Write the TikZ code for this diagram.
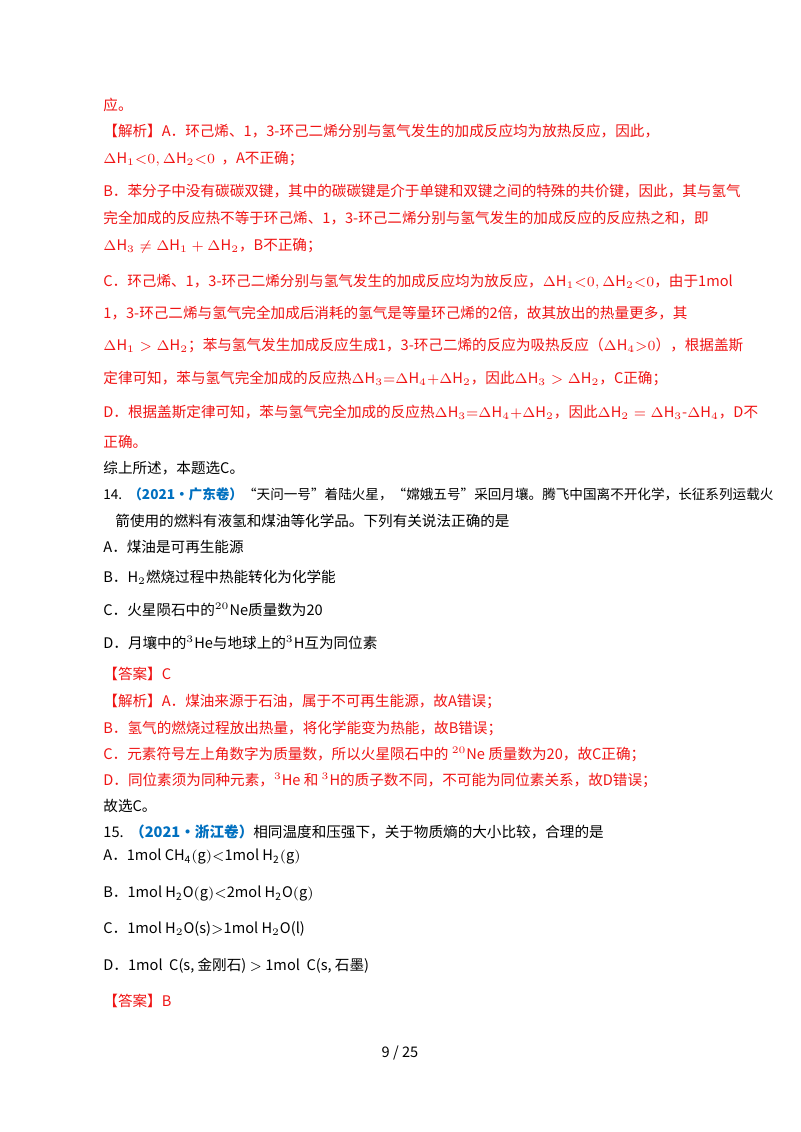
\documentclass[tikz,border=0pt]{standalone}
\usepackage{fontspec}
\setmainfont{Noto Sans CJK SC}
\definecolor{rd}{RGB}{240,20,20}
\definecolor{bl}{RGB}{0,112,192}
\begin{document}
\begin{tikzpicture}[x=0.5pt,y=-0.5pt,
  t/.style={anchor=west,inner sep=0pt,font=\fontsize{7.3}{9}\selectfont},
  r/.style={t,text=rd}]
\useasboundingbox (0,0) rectangle (800,1132);
\fill[white] (0,0) rectangle (800,1132);
\node[r] (l1) at (103,105) {应。};
\node[r] (l2) at (103,131) {【解析】A．环己烯、1，3-环己二烯分别与氢气发生的加成反应均为放热反应，因此，};
\node[r] (l3) at (103,159) {$\Delta\mathrm{H}_1{<}0,\Delta\mathrm{H}_2{<}0$\ \ ，A不正确；};
\node[r] (l4) at (103,191) {B．苯分子中没有碳碳双键，其中的碳碳键是介于单键和双键之间的特殊的共价键，因此，其与氢气};
\node[r] (l5) at (103,218) {完全加成的反应热不等于环己烯、1，3-环己二烯分别与氢气发生的加成反应的反应热之和，即};
\node[r] (l6) at (103,246) {$\Delta\mathrm{H}_3\neq\Delta\mathrm{H}_1+\Delta\mathrm{H}_2$，B不正确；};
\node[r] (l7) at (103,282) {C．环己烯、1，3-环己二烯分别与氢气发生的加成反应均为放反应，$\Delta\mathrm{H}_1{<}0,\Delta\mathrm{H}_2{<}0$，由于1mol};
\node[r] (l8) at (103,313) {1，3-环己二烯与氢气完全加成后消耗的氢气是等量环己烯的2倍，故其放出的热量更多，其};
\node[r] (l9) at (103,345) {$\Delta\mathrm{H}_1>\Delta\mathrm{H}_2$；苯与氢气发生加成反应生成1，3-环己二烯的反应为吸热反应（$\Delta\mathrm{H}_4{>}0$），根据盖斯};
\node[r] (l10) at (103,378) {定律可知，苯与氢气完全加成的反应热$\Delta\mathrm{H}_3{=}\Delta\mathrm{H}_4{+}\Delta\mathrm{H}_2$，因此$\Delta\mathrm{H}_3>\Delta\mathrm{H}_2$，C正确；};
\node[r] (l11) at (103,412) {D．根据盖斯定律可知，苯与氢气完全加成的反应热$\Delta\mathrm{H}_3{=}\Delta\mathrm{H}_4{+}\Delta\mathrm{H}_2$，因此$\Delta\mathrm{H}_2=\Delta\mathrm{H}_3\mbox{-}\Delta\mathrm{H}_4$，D不};
\node[r] (l12) at (103,442) {正确。};
\node[t] (l13) at (103,468) {综上所述，本题选C。};
\node[t,font=\fontsize{6.8}{9}\selectfont] (l14) at (103,494) {14.\ \ \textcolor{bl}{\bfseries（2021·广东卷）}“天问一号”着陆火星，“嫦娥五号”采回月壤。腾飞中国离不开化学，长征系列运载火};
\node[t] (l15) at (115,521) {箭使用的燃料有液氢和煤油等化学品。下列有关说法正确的是};
\node[t] (l16) at (103,547) {A．煤油是可再生能源};
\node[t] (l17) at (103,577) {B．$\mathrm{H}_2$燃烧过程中热能转化为化学能};
\node[t] (l18) at (103,610) {C．火星陨石中的$^{20}\mathrm{Ne}$质量数为20};
\node[t] (l19) at (103,643) {D．月壤中的$^{3}\mathrm{He}$与地球上的$^{3}\mathrm{H}$互为同位素};
\node[r] (l20) at (103,674) {【答案】C};
\node[r] (l21) at (103,701) {【解析】A．煤油来源于石油，属于不可再生能源，故A错误；};
\node[r] (l22) at (103,728) {B．氢气的燃烧过程放出热量，将化学能变为热能，故B错误；};
\node[r] (l23) at (103,754) {C．元素符号左上角数字为质量数，所以火星陨石中的 $^{20}$Ne 质量数为20，故C正确；};
\node[r] (l24) at (103,780) {D．同位素须为同种元素，$^{3}$He 和 $^{3}$H的质子数不同，不可能为同位素关系，故D错误；};
\node[t] (l25) at (103,806) {故选C。};
\node[t] (l26) at (103,832) {15.\ \ \textcolor{bl}{\bfseries（2021·浙江卷）}相同温度和压强下，关于物质熵的大小比较，合理的是};
\node[t] (l27) at (103,857) {A．$\mathrm{1mol\ CH_4(g){<}1mol\ H_2(g)}$};
\node[t] (l28) at (103,894) {B．$\mathrm{1mol\ H_2O(g){<}2mol\ H_2O(g)}$};
\node[t] (l29) at (103,929) {C．1mol H$_2$O(s)$>$1mol H$_2$O(l)};
\node[t] (l30) at (103,966) {D．1mol\ \ C(s, 金刚石) $>$ 1mol\ \ C(s, 石墨)};
\node[r] (l31) at (103,1001) {【答案】B};
\node[t,anchor=center] (pg) at (400,1053) {9\ /\ 25};
\end{tikzpicture}
\end{document}
